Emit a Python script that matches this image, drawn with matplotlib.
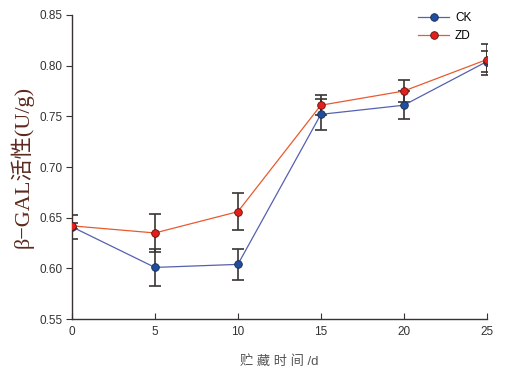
import matplotlib
matplotlib.use("Agg")
import matplotlib.pyplot as plt

days = [0, 5, 10, 15, 20, 25]
ck = [0.641, 0.601, 0.604, 0.752, 0.761, 0.804]
ck_err = [0.012, 0.018, 0.015, 0.015, 0.014, 0.010]
zd = [0.642, 0.635, 0.656, 0.761, 0.775, 0.806]
zd_err = [0.003, 0.019, 0.018, 0.010, 0.011, 0.015]
xticks = [0, 5, 10, 15, 20, 25]
yticks = [0.55, 0.60, 0.65, 0.70, 0.75, 0.80, 0.85]

plt.rcParams['font.family'] = ['Liberation Sans', 'Noto Sans CJK SC']

fig = plt.figure(figsize=(5.31, 3.75), dpi=100)
ax = fig.add_axes([0.1356, 0.149, 0.781, 0.811])

ax.errorbar(days, ck, yerr=ck_err, fmt='none', ecolor='#3a3532', elinewidth=1.2,
            capsize=4, capthick=1.2, zorder=2)
ax.errorbar(days, zd, yerr=zd_err, fmt='none', ecolor='#3a3532', elinewidth=1.2,
            capsize=4, capthick=1.2, zorder=2)
ax.plot(days, ck, color='#5560b0', lw=0.9, marker='o', ms=5.5,
        markerfacecolor='#1f4e9e', markeredgecolor='#1a2a50', markeredgewidth=0.6,
        label='CK', zorder=3)
ax.plot(days, zd, color='#e85a30', lw=0.9, marker='o', ms=5.5,
        markerfacecolor='#e3201c', markeredgecolor='#5a1010', markeredgewidth=0.6,
        label='ZD', zorder=4)

ax.set_xlim(0, 25)
ax.set_ylim(0.55, 0.85)
ax.set_xticks(xticks)
ax.set_xticklabels([str(t) for t in xticks])
ax.set_yticks(yticks)
ax.set_yticklabels([f"{t:.2f}" for t in yticks])
ax.spines['top'].set_visible(False)
ax.spines['right'].set_visible(False)
for s in ['left', 'bottom']:
    ax.spines[s].set_color('#3a3230')
    ax.spines[s].set_linewidth(1.0)
ax.tick_params(axis='x', direction='in', length=4, color='#3a3230', labelsize=8.5, labelcolor='#333333', pad=5)
ax.tick_params(axis='y', direction='out', length=4, color='#3a3230', labelsize=8.5, labelcolor='#333333', pad=3)

ax.set_xlabel('贮 藏 时 间 /d', fontsize=9.5, color='#555555', labelpad=12)
ax.set_ylabel('β−GAL活性(U/g)', fontsize=16, color='#5c2a1e',
              family=['Liberation Serif', 'Noto Sans CJK SC'], labelpad=4)

leg = ax.legend(loc='upper left', frameon=False, fontsize=8.5, handlelength=2.6,
                handletextpad=0.5, borderaxespad=0, borderpad=0, labelspacing=0.55,
                bbox_to_anchor=(0.835, 1.01))

fig.savefig('out.png', dpi=100)
